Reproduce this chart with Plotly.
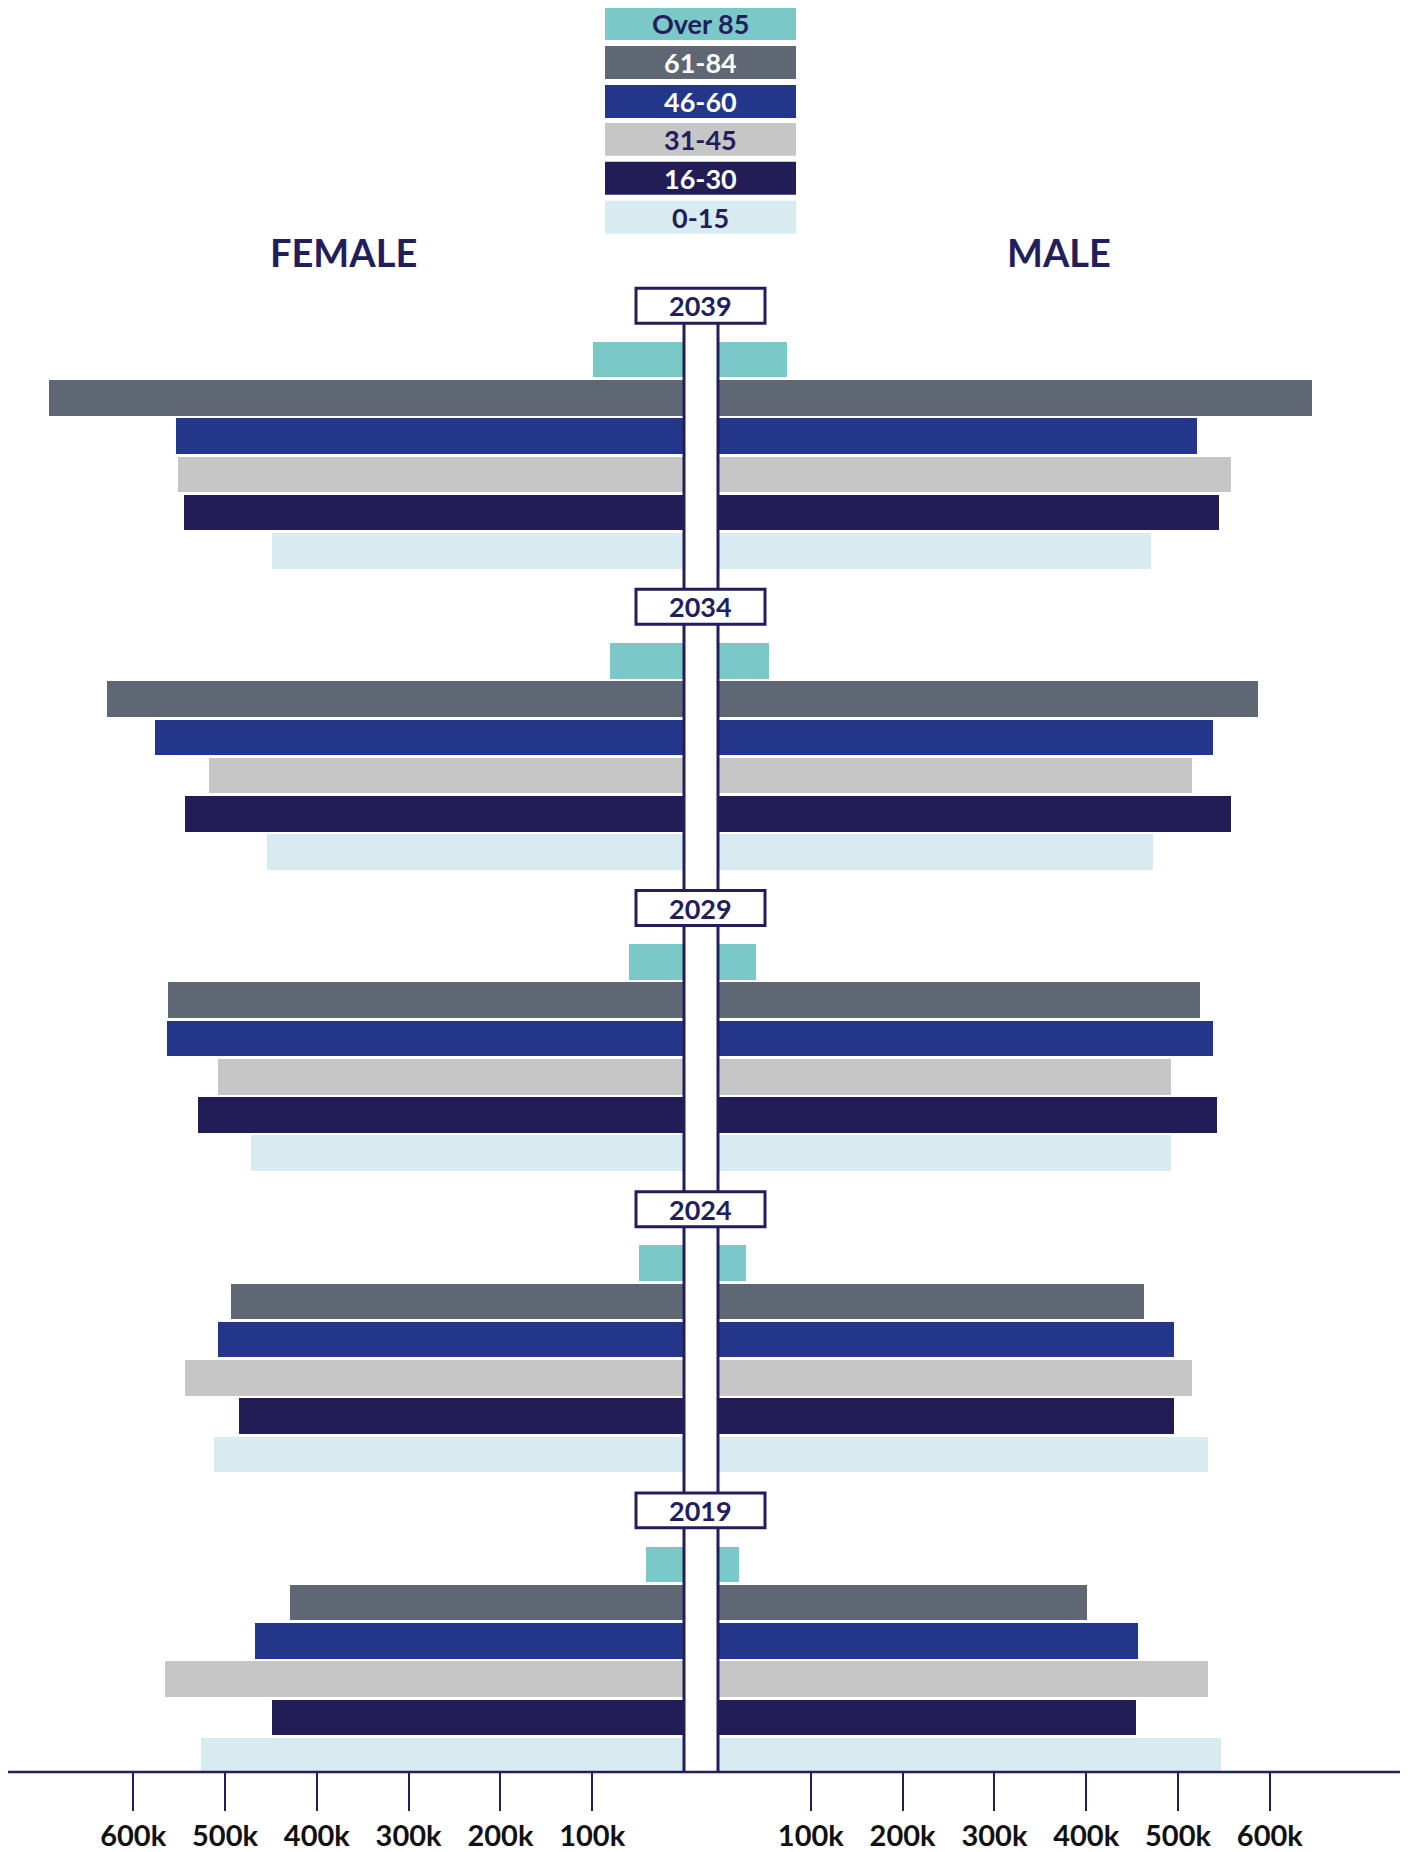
import plotly.graph_objects as go

# ---------------- data (values in thousands) ----------------
years = ["2039", "2034", "2029", "2024", "2019"]
age_groups = ["Over 85", "61-84", "46-60", "31-45", "16-30", "0-15"]

female_over85 = [99, 81, 60, 49, 41]
female_61_84 = [692, 629, 562, 494, 429]
female_46_60 = [553, 576, 563, 508, 467]
female_31_45 = [551, 517, 508, 544, 565]
female_16_30 = [545, 544, 529, 485, 449]
female_0_15 = [449, 454, 472, 512, 526]

male_over85 = [74, 55, 40, 29, 22]
male_61_84 = [646, 587, 524, 463, 401]
male_46_60 = [521, 538, 538, 496, 456]
male_31_45 = [558, 515, 492, 515, 533]
male_16_30 = [545, 558, 542, 496, 454]
male_0_15 = [471, 473, 492, 533, 547]

tick_values = [100, 200, 300, 400, 500, 600]
tick_labels = ["100k", "200k", "300k", "400k", "500k", "600k"]

female = [female_over85, female_61_84, female_46_60, female_31_45, female_16_30, female_0_15]
male = [male_over85, male_61_84, male_46_60, male_31_45, male_16_30, male_0_15]

colors = ["#7bc8c9", "#5f6774", "#233689", "#c6c6c6", "#221c57", "#d7ebf0"]
legend_text_colors = ["#231d5c", "#ffffff", "#ffffff", "#231d5c", "#ffffff", "#231d5c"]
NAVY = "#231d5c"
FONT = "Lato, 'Open Sans', sans-serif"

# ---------------- layout geometry (page pixels) ----------------
OFF = 8                # default body margin of the html page
W, H = 1400, 1844      # figure size
PITCH = 38.3           # px per bar slot
GROUP = 301.5 / PITCH  # slots per year group
TOP_CENTER = 360.0     # page px centre of first bar
PXK = 0.918            # px per thousand
LZERO, RZERO = 684, 719
AXIS_Y = 1774


def px_x(p):
    return (p - OFF) / W


def px_y(p):
    return 1 - (p - OFF) / H


fig = go.Figure()

for i, age in enumerate(age_groups):
    ys = [g * GROUP + i for g in range(len(years))]
    fig.add_trace(go.Bar(
        x=female[i], y=ys, orientation="h", xaxis="x", yaxis="y",
        marker=dict(color=colors[i], line=dict(width=0)), width=0.93,
        name=age, showlegend=False, hovertemplate="Female " + age + ": %{x}k<extra></extra>"))
    fig.add_trace(go.Bar(
        x=male[i], y=ys, orientation="h", xaxis="x2", yaxis="y",
        marker=dict(color=colors[i], line=dict(width=0)), width=0.93,
        name=age, showlegend=False, hovertemplate="Male " + age + ": %{x}k<extra></extra>"))

shapes = []
annotations = []

# centre column
for xp in (LZERO, RZERO - 1):
    shapes.append(dict(type="line", xref="paper", yref="paper",
                       x0=px_x(xp), x1=px_x(xp), y0=px_y(323), y1=px_y(AXIS_Y),
                       line=dict(color=NAVY, width=3), layer="above"))

# axis line
shapes.append(dict(type="line", xref="paper", yref="paper",
                   x0=px_x(6), x1=px_x(1400), y0=px_y(AXIS_Y), y1=px_y(AXIS_Y),
                   line=dict(color=NAVY, width=2.5), layer="above"))

# year boxes
half = 17.5 / PITCH
for g, yr in enumerate(years):
    c = g * GROUP - 1.41
    shapes.append(dict(type="rect", xref="paper", yref="y",
                       x0=px_x(636), x1=px_x(765), y0=c - half, y1=c + half,
                       fillcolor="white", line=dict(color=NAVY, width=3), layer="above"))
    annotations.append(dict(text="<b>" + yr + "</b>", xref="paper", yref="y",
                            x=px_x(700.5), y=c, xanchor="center", yanchor="middle",
                            showarrow=False, font=dict(family=FONT, size=27, color=NAVY)))

# legend
leg_top = [7, 46, 85, 123, 162, 201]
for i, age in enumerate(age_groups):
    t = leg_top[i]
    shapes.append(dict(type="rect", xref="paper", yref="paper",
                       x0=px_x(605), x1=px_x(796), y0=px_y(t), y1=px_y(t + 33),
                       fillcolor=colors[i], line=dict(width=0), layer="above"))
    annotations.append(dict(text="<b>" + age + "</b>", xref="paper", yref="paper",
                            x=px_x(700.5), y=px_y(t + 16.5), xanchor="center", yanchor="middle",
                            showarrow=False,
                            font=dict(family=FONT, size=27, color=legend_text_colors[i])))

# side titles
annotations.append(dict(text="<b>FEMALE</b>", xref="paper", yref="paper", x=px_x(343), y=px_y(252),
                        xanchor="center", yanchor="middle", showarrow=False,
                        font=dict(family=FONT, size=38, color=NAVY)))
annotations.append(dict(text="<b>MALE</b>", xref="paper", yref="paper", x=px_x(1059), y=px_y(252),
                        xanchor="center", yanchor="middle", showarrow=False,
                        font=dict(family=FONT, size=38, color=NAVY)))

axis_common = dict(
    anchor="free", position=px_y(AXIS_Y),
    tickmode="array", tickvals=tick_values, ticktext=["<b>" + t + "</b>" for t in tick_labels],
    ticks="outside", ticklen=38, tickwidth=2, tickcolor=NAVY,
    tickfont=dict(family=FONT, size=29, color="#111111"),
    showgrid=False, zeroline=False, showline=False, fixedrange=True,
)

fig.update_layout(
    width=W, height=H,
    margin=dict(l=0, r=0, t=0, b=0),
    paper_bgcolor="white", plot_bgcolor="white",
    barmode="overlay", bargap=0,
    showlegend=False,
    xaxis=dict(domain=[0, px_x(LZERO)], range=[(LZERO - OFF) / PXK, 0], **axis_common),
    xaxis2=dict(domain=[px_x(RZERO), 1], range=[0, (W + OFF - RZERO) / PXK], **axis_common),
    yaxis=dict(domain=[0, 1],
               range=[(H + OFF - TOP_CENTER) / PITCH, (OFF - TOP_CENTER) / PITCH],
               showticklabels=False, showgrid=False, zeroline=False, showline=False,
               ticks="", fixedrange=True),
    shapes=shapes,
    annotations=annotations,
)

fig.write_html("out.html")
